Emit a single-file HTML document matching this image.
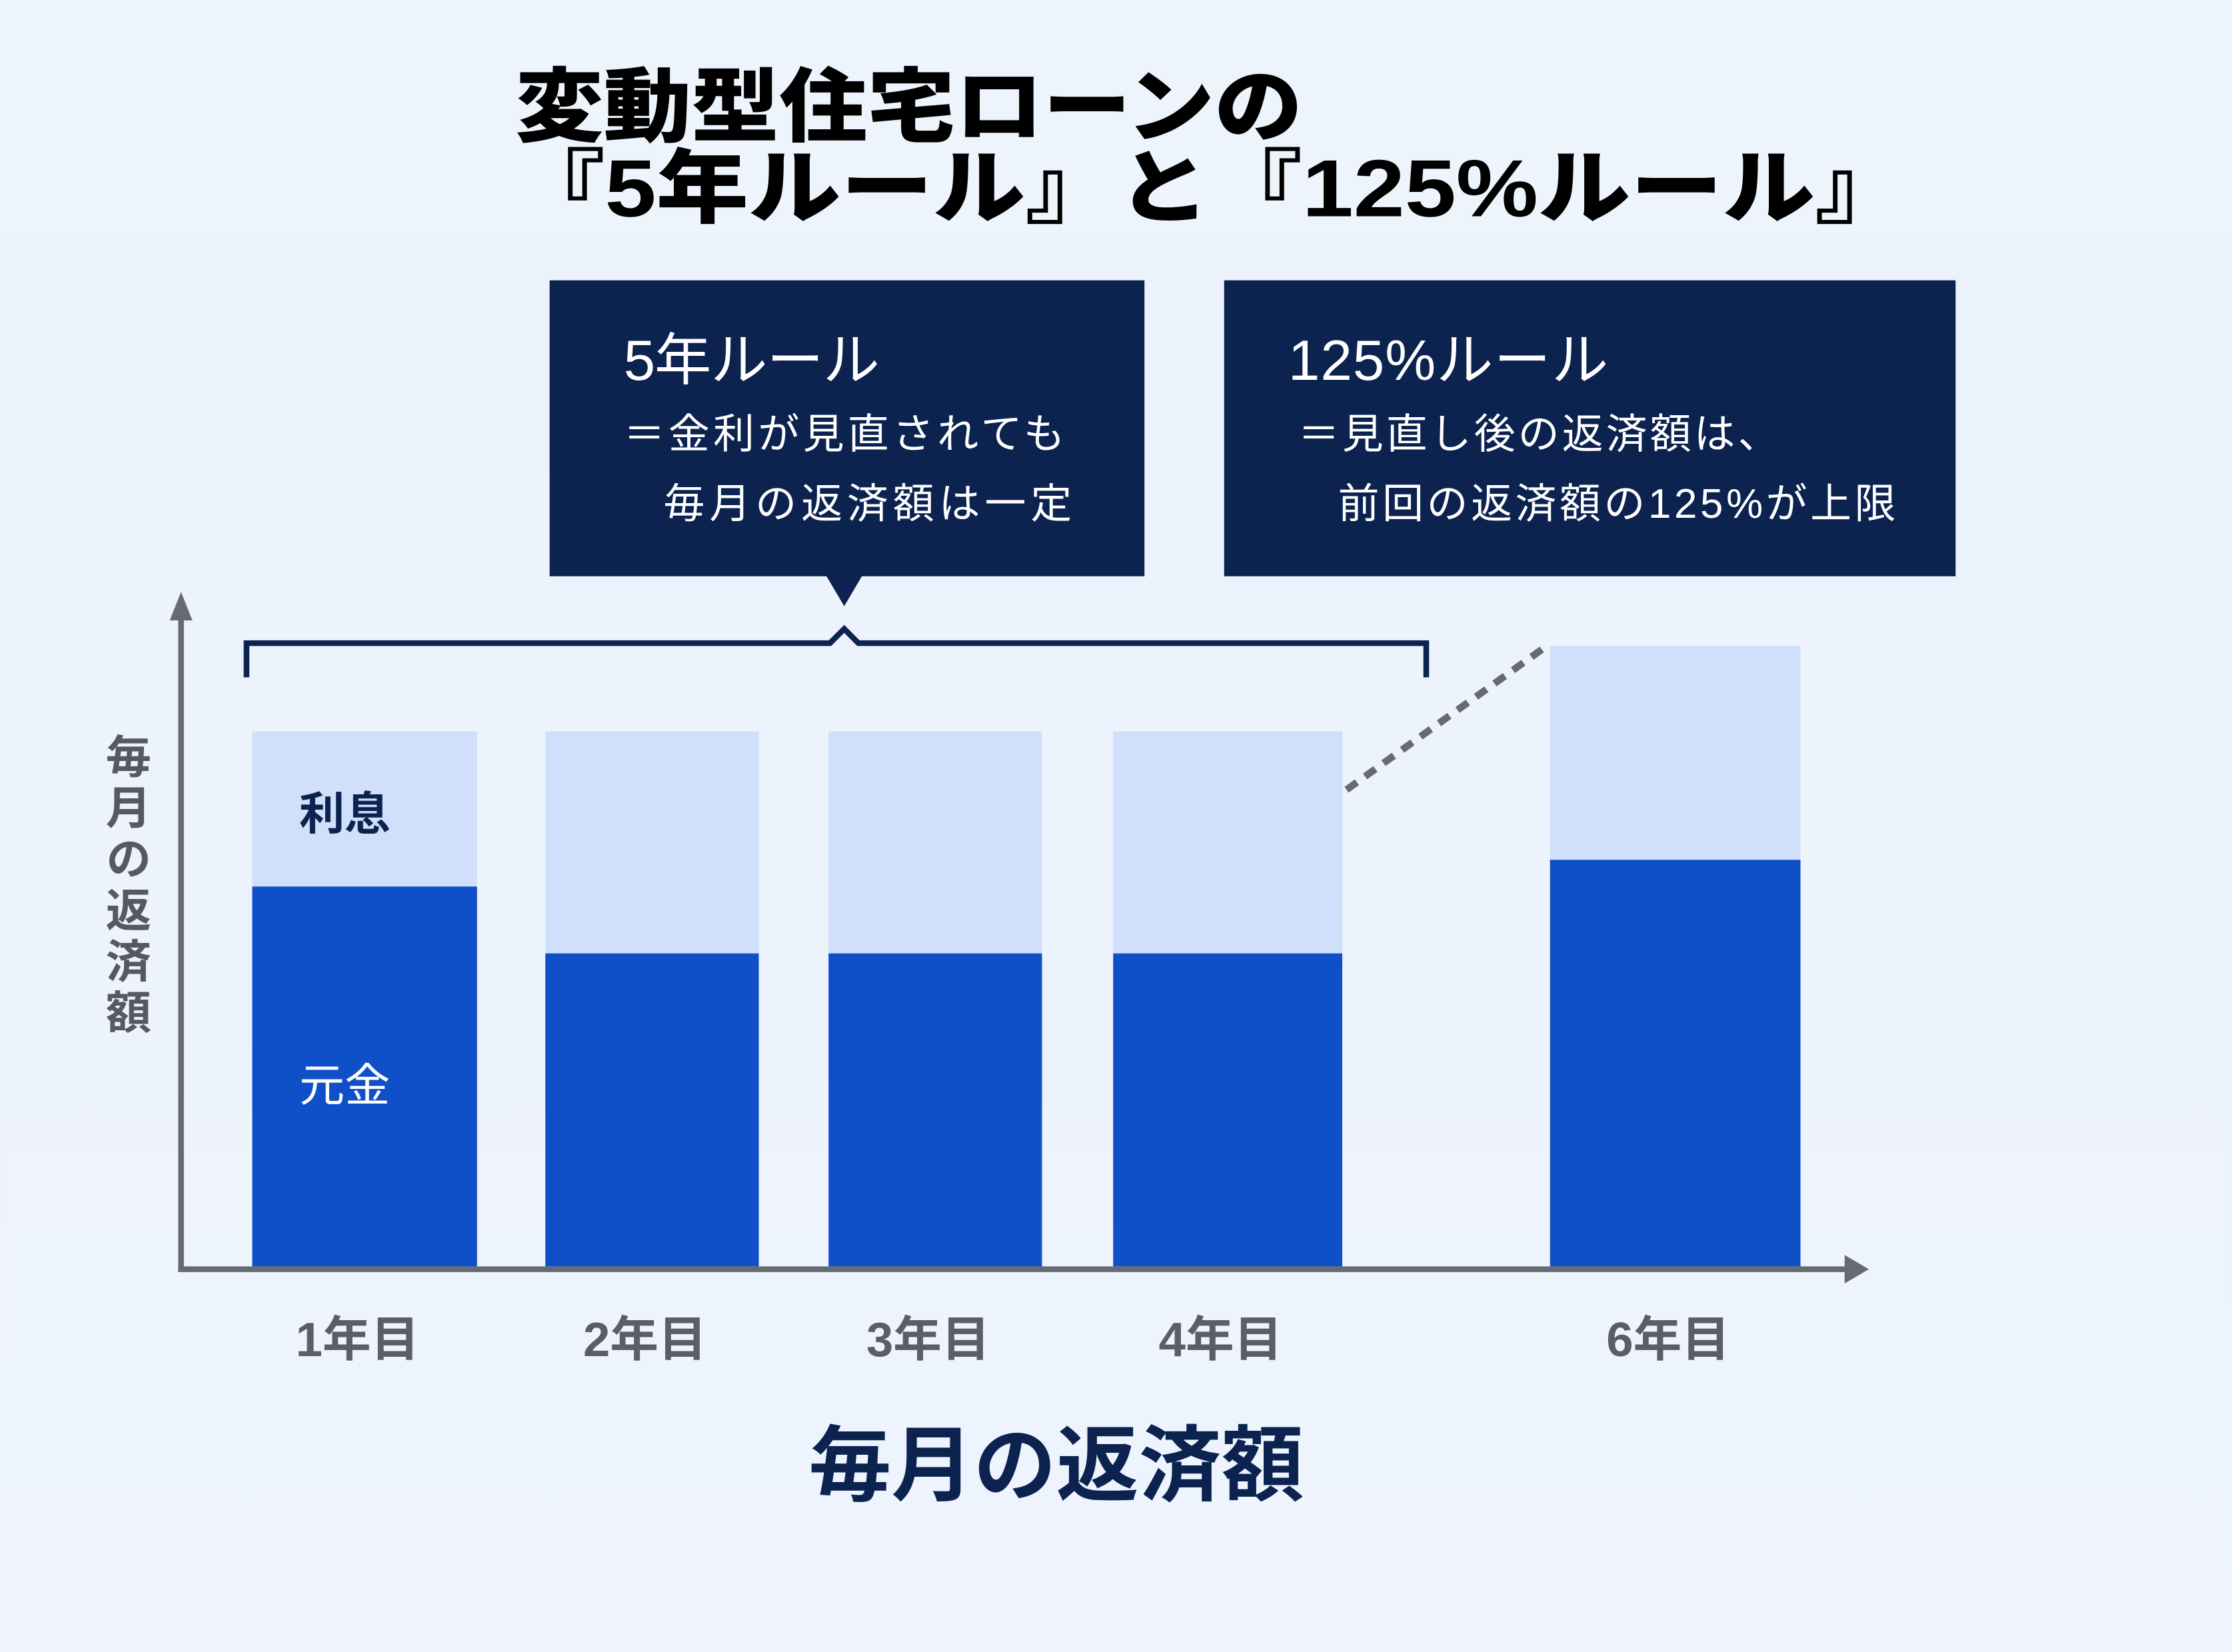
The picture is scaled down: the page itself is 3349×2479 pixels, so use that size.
<!DOCTYPE html>
<html><head><meta charset="utf-8"><style>
html,body{margin:0;padding:0;background:#edf3fc;}
svg{display:block;font-family:"Liberation Sans","Noto Sans CJK JP",sans-serif;}
</style></head><body>
<svg width="3349" height="2479" viewBox="0 0 1568 1161" xmlns="http://www.w3.org/2000/svg">
<defs><linearGradient id="bg" x1="0" y1="0" x2="0" y2="1"><stop offset="0" stop-color="#eaf2fb"/><stop offset="1" stop-color="#eff4fd"/></linearGradient></defs>
<rect width="1568" height="1161" fill="url(#bg)"/>
<rect width="1568" height="165" fill="#edf4fc"/>
<text x="362" y="95" font-size="57" font-weight="900" fill="#000" textLength="553" lengthAdjust="spacingAndGlyphs">変動型住宅ローンの</text>
<text x="360" y="152" font-size="57" font-weight="900" fill="#000" textLength="980" lengthAdjust="spacingAndGlyphs">『5年ルール』と『125%ルール』</text>

<g>
<rect x="386" y="197" width="418" height="208" fill="#0c2350"/>
<polygon points="580,404 606,404 593,426" fill="#0c2350"/>
<text x="438" y="267" font-size="40" fill="#fff" textLength="180">5年ルール</text>
<text x="438" y="315" font-size="29" fill="#fff" textLength="310">＝金利が見直されても</text>
<text x="466" y="364" font-size="29" fill="#fff" textLength="287">毎月の返済額は一定</text>
</g>
<g>
<rect x="860" y="197" width="514" height="208" fill="#0c2350"/>
<text x="905" y="267" font-size="40" fill="#fff" textLength="225">125%ルール</text>
<text x="912" y="315" font-size="29" fill="#fff" textLength="338">＝見直し後の返済額は、</text>
<text x="940" y="364" font-size="29" fill="#fff" textLength="392">前回の返済額の125%が上限</text>
</g>
<path d="M173,476 V452 H583 L593,442 L603,452 H1002 V476" fill="none" stroke="#0c2350" stroke-width="4"/>

<g id="bars"></g>
<line x1="946" y1="555" x2="1088" y2="453" stroke="#666b73" stroke-width="5" stroke-dasharray="9,7"/>

<line x1="127" y1="893" x2="127" y2="432" stroke="#666b73" stroke-width="4"/>
<polygon points="119,436 135,436 127,416" fill="#666b73"/>
<line x1="125" y1="892" x2="1298" y2="892" stroke="#666b73" stroke-width="4"/>
<polygon points="1296,882 1296,902 1313,892" fill="#666b73"/>

<text x="210" y="583" font-size="32" font-weight="bold" fill="#0c2350">利息</text>
<text x="210" y="774" font-size="32" fill="#fff">元金</text>
<text x="87" y="515" font-size="32" font-weight="bold" fill="#555a61" style="writing-mode:vertical-rl;letter-spacing:4px">毎月の返済額</text>
<g id="ticks"></g>
<text x="742" y="1050" font-size="58" font-weight="bold" fill="#0c2350" text-anchor="middle">毎月の返済額</text>
</svg>
<script>
const categories = ['1年目','2年目','3年目','4年目','6年目'];
const principal = [7.1, 5.85, 5.85, 5.85, 7.6];
const interest = [2.9, 4.15, 4.15, 4.15, 4.0];
const barLeft = [177, 383, 582, 782, 1089];
const barWidth = [158, 150, 150, 161, 176];
const baseY = 890, pxPerUnit = 37.6;
function yScale(v){ return baseY - v*pxPerUnit; }
const NS='http://www.w3.org/2000/svg';
const gb=document.getElementById('bars'), gt=document.getElementById('ticks');
categories.forEach((c,i)=>{
  const yp=yScale(principal[i]), yt=yScale(principal[i]+interest[i]);
  const ri=document.createElementNS(NS,'rect');
  
  
  ri.setAttribute('x',barLeft[i]); ri.setAttribute('width',barWidth[i]);
  ri.setAttribute('y',yt); ri.setAttribute('height',yp-yt); ri.setAttribute('fill','#d0dffa');
  gb.appendChild(ri);
  const rp=document.createElementNS(NS,'rect');
  
  
  rp.setAttribute('x',barLeft[i]); rp.setAttribute('width',barWidth[i]);
  rp.setAttribute('y',yp); rp.setAttribute('height',baseY-yp); rp.setAttribute('fill','#0f4fc8');
  gb.appendChild(rp);
  const t=document.createElementNS(NS,'text');
  
  
  t.setAttribute('x',barLeft[i]+barWidth[i]/2-5); t.setAttribute('y',953);
  t.setAttribute('font-size','34'); t.setAttribute('font-weight','bold'); t.setAttribute('fill','#5a5f66'); t.setAttribute('text-anchor','middle');
  t.textContent=c; gt.appendChild(t);
});
</script>
</body></html>
